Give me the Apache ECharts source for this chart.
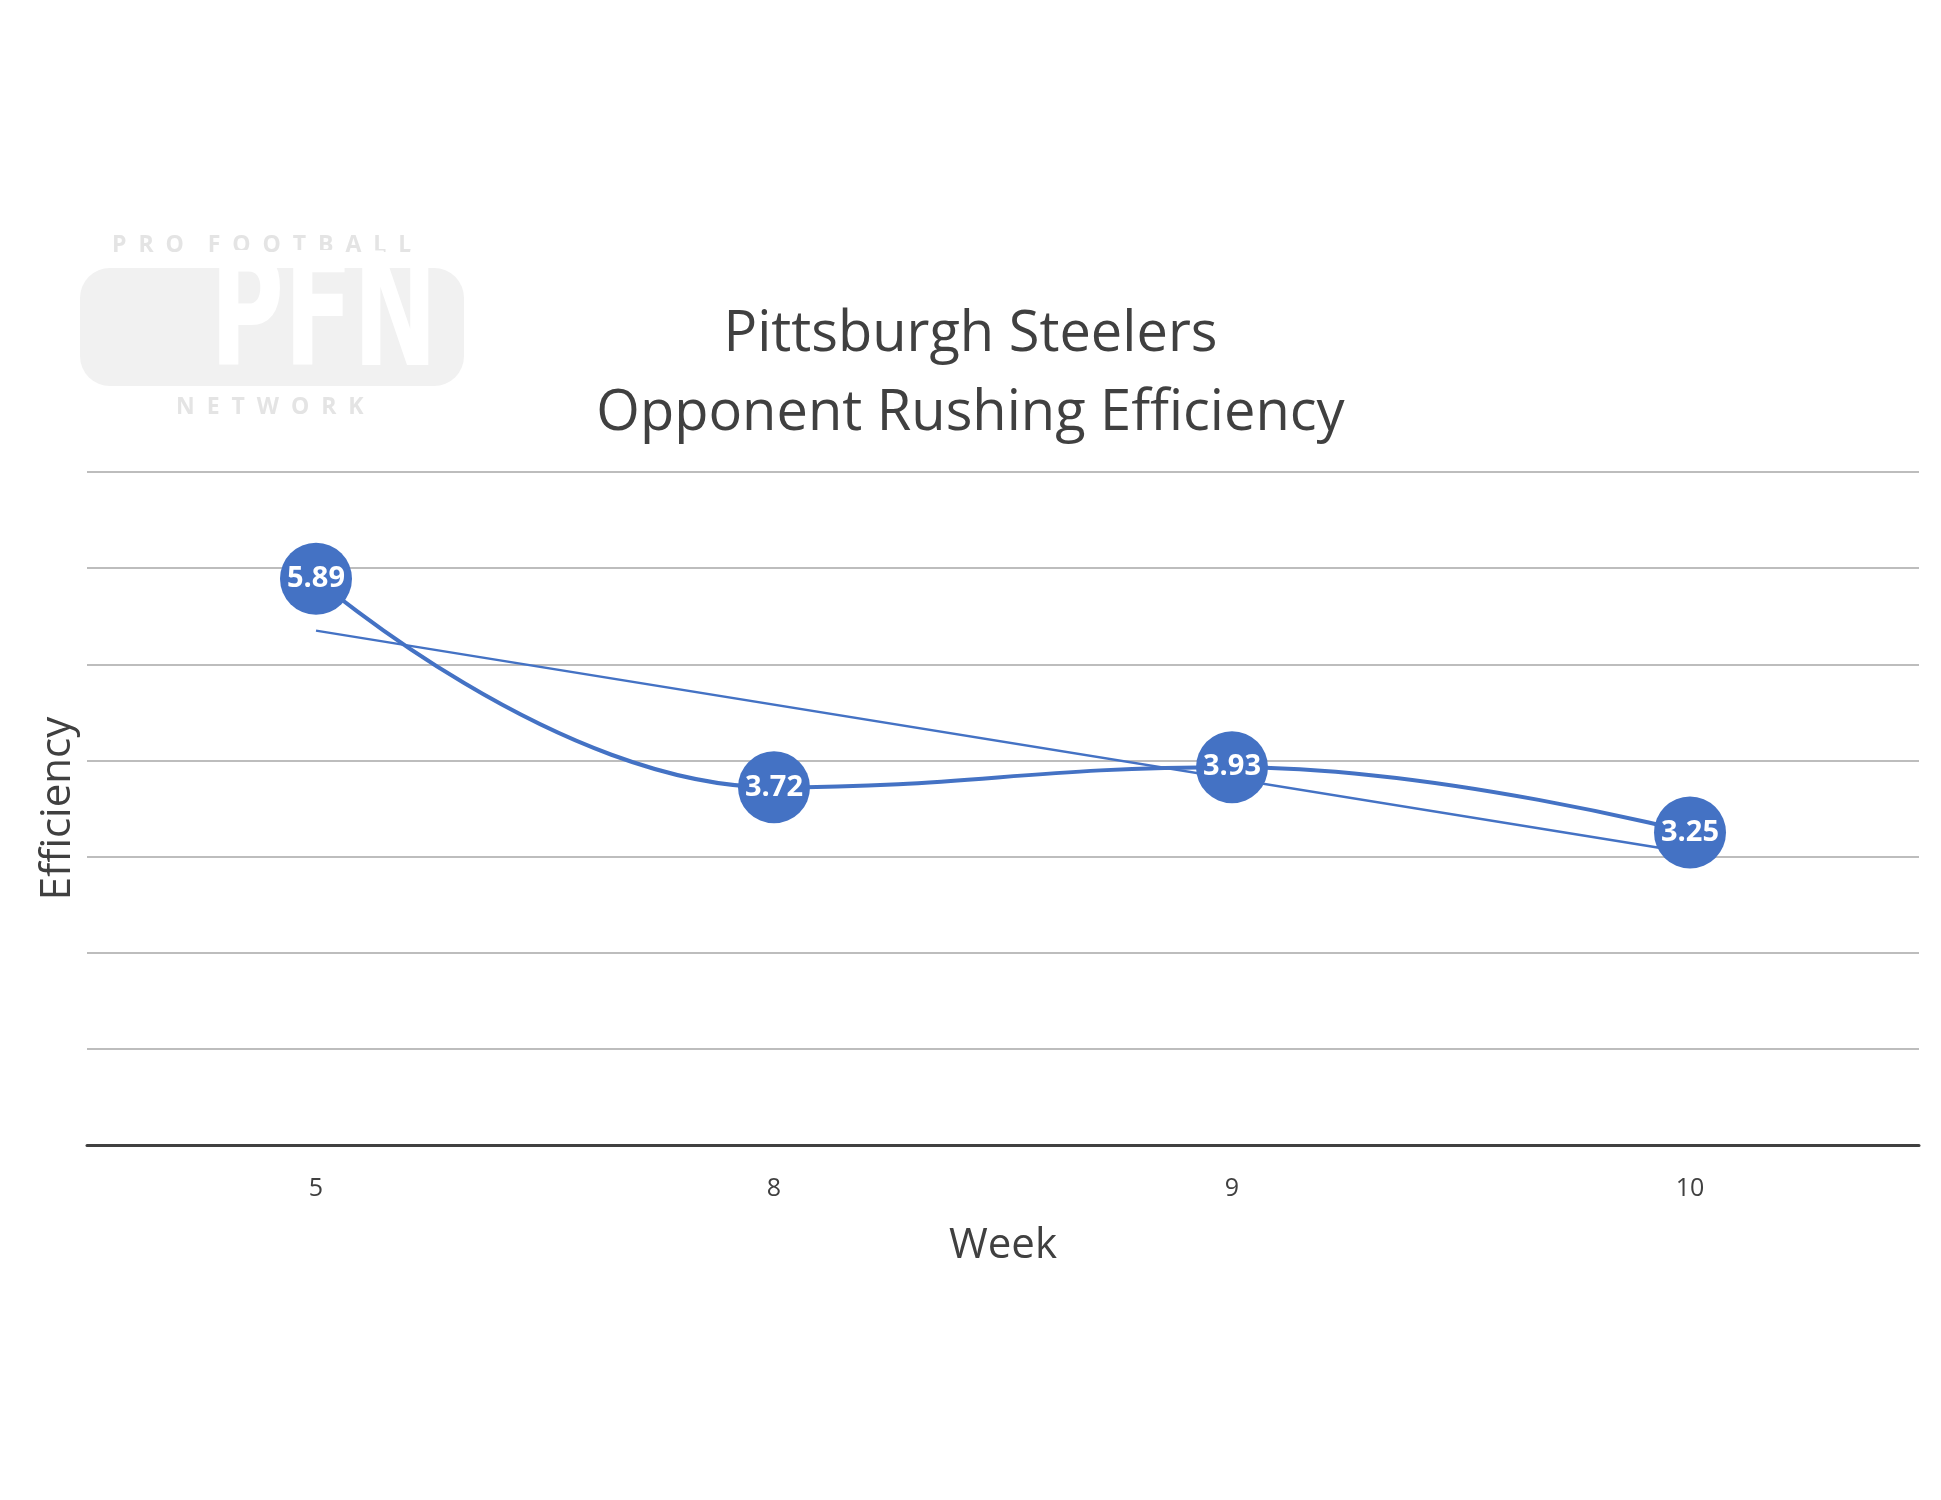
<!DOCTYPE html>
<html>
<head>
<meta charset="utf-8">
<script src="https://cdn.jsdelivr.net/npm/echarts@6/dist/echarts.min.js"></script>
<style>html,body{margin:0;padding:0;background:#fff}#c{width:1941px;height:1500px}</style>
</head>
<body>
<div id="c"></div>
<script>
const weeks = ['5', '8', '9', '10'];
const efficiency = [5.89, 3.72, 3.93, 3.25];
const trendline = [5.35, null, null, 3.04];
const titleLines = ['Pittsburgh Steelers', 'Opponent Rushing Efficiency'];

const chart = echarts.init(document.getElementById('c'), null, {renderer: 'canvas'});
const FONT = '"Open Sans", "Noto Sans", sans-serif';
chart.setOption({
  backgroundColor: '#ffffff',
  animation: false,
  title: {
    text: titleLines.join('\n'),
    left: 'center',
    top: 291,
    textStyle: {fontFamily: FONT, fontSize: 56, fontWeight: 'normal', color: '#404040', lineHeight: 79}
  },
  graphic: [
    {type: 'rect', shape: {x: 80, y: 268, width: 384, height: 118, r: 30}, style: {fill: '#f1f1f1'}, z: -10},
    {type: 'text', left: 112, top: 234, style: {text: 'P  R  O    F  O  O  T  B  A  L  L', fontFamily: FONT, fontWeight: 'bold', fontSize: 23, fill: '#e4e4e4'}, z: -9},
    {type: 'text', x: 210, y: 246, scaleX: 0.72, style: {text: 'PFN', fontFamily: '"DejaVu Sans Condensed", sans-serif', fontWeight: 'bold', fontSize: 156, fill: '#ffffff', textVerticalAlign: 'top'}, z: -8},
    {type: 'text', left: 176, top: 396, style: {text: 'N  E  T  W  O  R  K', fontFamily: FONT, fontWeight: 'bold', fontSize: 23, fill: '#e4e4e4'}, z: -9}
  ],
  grid: {left: 87, right: 22, top: 472, bottom: 355, containLabel: false},
  xAxis: {
    type: 'category',
    data: weeks,
    name: 'Week',
    nameLocation: 'middle',
    nameGap: 80,
    nameTextStyle: {fontFamily: FONT, fontSize: 42, color: '#404040'},
    axisLine: {lineStyle: {color: '#404040', width: 3}},
    axisTick: {show: false},
    axisLabel: {fontFamily: FONT, fontSize: 25, color: '#404040', margin: 31}
  },
  yAxis: {
    type: 'value',
    min: 0, max: 7, interval: 1,
    name: 'Efficiency',
    nameLocation: 'middle',
    nameGap: 8,
    nameTextStyle: {fontFamily: FONT, fontSize: 42, color: '#404040'},
    axisLine: {show: false},
    axisTick: {show: false},
    axisLabel: {show: false},
    splitLine: {lineStyle: {color: '#bdbdbd', width: 2}}
  },
  series: [
    {
      type: 'line',
      data: trendline,
      connectNulls: true,
      symbol: 'none',
      lineStyle: {color: '#4472C4', width: 2.5},
      z: 2
    },
    {
      type: 'line',
      data: efficiency,
      smooth: 0.45,
      symbol: 'circle',
      symbolSize: 72,
      itemStyle: {color: '#4472C4'},
      lineStyle: {color: '#4472C4', width: 4},
      label: {
        show: true, position: 'inside',
        formatter: p => p.value.toFixed(2),
        fontFamily: FONT, fontWeight: 'bold', fontSize: 29, color: '#ffffff'
      },
      z: 3
    }
  ]
});
</script>
</body>
</html>
